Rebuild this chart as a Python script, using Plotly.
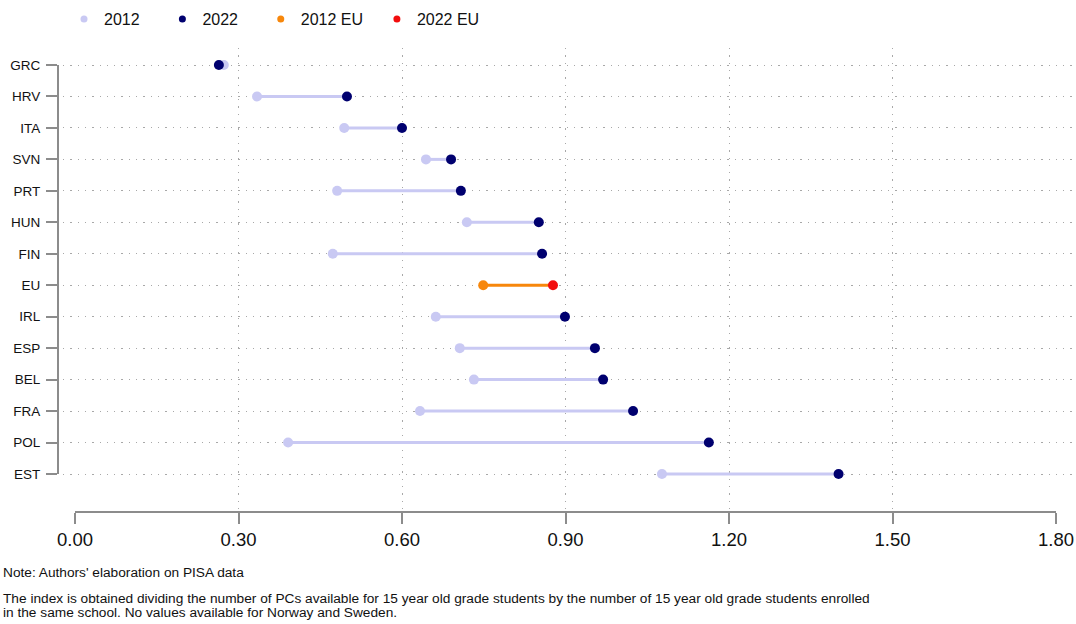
import plotly.graph_objects as go

# ---------------- data ----------------
countries = ["GRC", "HRV", "ITA", "SVN", "PRT", "HUN", "FIN", "EU",
             "IRL", "ESP", "BEL", "FRA", "POL", "EST"]
v2012 = [0.273, 0.334, 0.494, 0.644, 0.481, 0.719, 0.473, 0.749,
         0.662, 0.706, 0.732, 0.633, 0.391, 1.077]
v2022 = [0.264, 0.499, 0.600, 0.690, 0.708, 0.851, 0.857, 0.877,
         0.899, 0.954, 0.969, 1.024, 1.163, 1.401]
xtick_vals = [0.0, 0.3, 0.6, 0.9, 1.2, 1.5, 1.8]
xtick_text = ["0.00", "0.30", "0.60", "0.90", "1.20", "1.50", "1.80"]
legend_names = ["2012", "2022", "2012 EU", "2022 EU"]
note1 = "Note: Authors' elaboration on PISA data"
note2 = ("The index is obtained dividing the number of PCs available for 15 year old grade "
         "students by the number of 15 year old grade students enrolled")
note3 = "in the same school. No values available for Norway and Sweden."

# ---------------- style / layout ----------------
C2012 = "#c9c9f3"
C2022 = "#00006f"
CEU12 = "#f7870b"
CEU22 = "#f20d0d"
AXIS_C = "#8c8c8c"
GRID_C = "#a8a8a8"
FONT = "Liberation Sans, Arial, Helvetica, sans-serif"
TXT_C = "#111111"
LEGEND_PAD = [4, 4, 2, 0]      # non-breaking spaces after each legend label (spacing)

W, H = 1076, 624
X0PX, X1PX = 75, 1056          # pixel of x=0 and x=1.8
ROW0PX, ROWNPX = 65, 474       # pixel of first and last row
GRID_L, GRID_R = 63, 1076
GRID_T, GRID_B = 48, 513
YAX_X = 58
XAX_Y = 512

n = len(countries)
XMAX = xtick_vals[-1]
S = (X1PX - X0PX) / XMAX
R = (ROWNPX - ROW0PX) / (n - 1)


def xval(px):
    return (px - X0PX) / S


def yval(py):
    return (py - ROW0PX) / R


pos = list(range(n))
idx_c = [i for i, c in enumerate(countries) if c != "EU"]
idx_eu = [i for i, c in enumerate(countries) if c == "EU"]


def seg(idx):
    xs, ys = [], []
    for i in idx:
        xs += [v2012[i], v2022[i], None]
        ys += [pos[i], pos[i], None]
    return xs, ys


fig = go.Figure()

# connecting segments
xs, ys = seg(idx_c)
fig.add_trace(go.Scatter(x=xs, y=ys, mode="lines", line=dict(color=C2012, width=3),
                         showlegend=False, hoverinfo="skip"))
xs, ys = seg(idx_eu)
fig.add_trace(go.Scatter(x=xs, y=ys, mode="lines", line=dict(color=CEU12, width=3),
                         showlegend=False, hoverinfo="skip"))

# dots
fig.add_trace(go.Scatter(x=[v2012[i] for i in idx_c], y=[pos[i] for i in idx_c],
                         mode="markers", marker=dict(color=C2012, size=10),
                         showlegend=False, cliponaxis=False,
                         text=[countries[i] for i in idx_c], name="2012"))
fig.add_trace(go.Scatter(x=[v2012[i] for i in idx_eu], y=[pos[i] for i in idx_eu],
                         mode="markers", marker=dict(color=CEU12, size=10),
                         showlegend=False, cliponaxis=False, name="2012 EU"))
fig.add_trace(go.Scatter(x=[v2022[i] for i in idx_c], y=[pos[i] for i in idx_c],
                         mode="markers", marker=dict(color=C2022, size=10),
                         showlegend=False, cliponaxis=False,
                         text=[countries[i] for i in idx_c], name="2022"))
fig.add_trace(go.Scatter(x=[v2022[i] for i in idx_eu], y=[pos[i] for i in idx_eu],
                         mode="markers", marker=dict(color=CEU22, size=10),
                         showlegend=False, cliponaxis=False, name="2022 EU"))

# legend entries
for nm, col, pad in zip(legend_names, [C2012, C2022, CEU12, CEU22], LEGEND_PAD):
    fig.add_trace(go.Scatter(x=[None], y=[None], mode="markers", name=nm + "\u00a0" * pad,
                             marker=dict(color=col, size=7)))

# invisible trace to create the R-style axis subplot
fig.add_trace(go.Scatter(x=[None], y=[None], xaxis="x2", yaxis="y2",
                         showlegend=False, hoverinfo="skip"))

fig.update_layout(
    width=W, height=H,
    margin=dict(l=0, r=0, t=0, b=0, autoexpand=False),
    paper_bgcolor="white",
    plot_bgcolor="rgba(0,0,0,0)",
    font=dict(family=FONT, color=TXT_C),
    xaxis=dict(domain=[GRID_L / W, GRID_R / W], range=[xval(GRID_L), xval(GRID_R)],
               showgrid=True, gridcolor=GRID_C, gridwidth=1.3, griddash="1.3px,6px",
               tickvals=xtick_vals[1:-1], showticklabels=False, ticks="",
               zeroline=False, showline=False, fixedrange=True, automargin=False),
    yaxis=dict(domain=[1 - GRID_B / H, 1 - GRID_T / H], range=[yval(GRID_B), yval(GRID_T)],
               showgrid=True, gridcolor=GRID_C, gridwidth=1.3, griddash="1.3px,6px",
               tickvals=pos, showticklabels=False, ticks="",
               zeroline=False, showline=False, fixedrange=True, automargin=False),
    xaxis2=dict(domain=[X0PX / W, X1PX / W], range=[0, XMAX], anchor="free",
                position=1 - XAX_Y / H, showgrid=False, zeroline=False,
                showline=True, linecolor=AXIS_C, linewidth=2,
                ticks="outside", ticklen=11, tickwidth=2, tickcolor=AXIS_C,
                tickvals=xtick_vals, ticktext=xtick_text, ticklabeloverflow="allow",
                tickfont=dict(family=FONT, size=18.5, color=TXT_C),
                fixedrange=True, automargin=False),
    yaxis2=dict(domain=[1 - ROWNPX / H, 1 - ROW0PX / H], range=[n - 1, 0], anchor="free",
                position=YAX_X / W, showgrid=False, zeroline=False,
                showline=True, linecolor=AXIS_C, linewidth=2,
                ticks="outside", ticklen=11, tickwidth=2, tickcolor=AXIS_C,
                tickvals=pos, ticktext=countries, ticklabeloverflow="allow",
                ticklabelstandoff=3,
                tickfont=dict(family=FONT, size=13.5, color=TXT_C),
                fixedrange=True, automargin=False),
    legend=dict(orientation="h", x=64 / W, y=1 - 2 / H, xanchor="left", yanchor="top",
                font=dict(family=FONT, size=16, color=TXT_C),
                bgcolor="rgba(0,0,0,0)", borderwidth=0),
    annotations=[
        dict(text=note1, xref="paper", yref="paper", x=1 / W, y=1 - 572 / H,
             xanchor="left", yanchor="middle", showarrow=False,
             font=dict(family=FONT, size=13.7, color=TXT_C)),
        dict(text=note2, xref="paper", yref="paper", x=1 / W, y=1 - 598 / H,
             xanchor="left", yanchor="middle", showarrow=False,
             font=dict(family=FONT, size=13.7, color=TXT_C)),
        dict(text=note3, xref="paper", yref="paper", x=1 / W, y=1 - 612 / H,
             xanchor="left", yanchor="middle", showarrow=False,
             font=dict(family=FONT, size=13.7, color=TXT_C)),
    ],
)

fig.write_html("out.html", config={"displayModeBar": False},
               post_script="document.body.style.margin='0';document.body.style.overflow='hidden';")
